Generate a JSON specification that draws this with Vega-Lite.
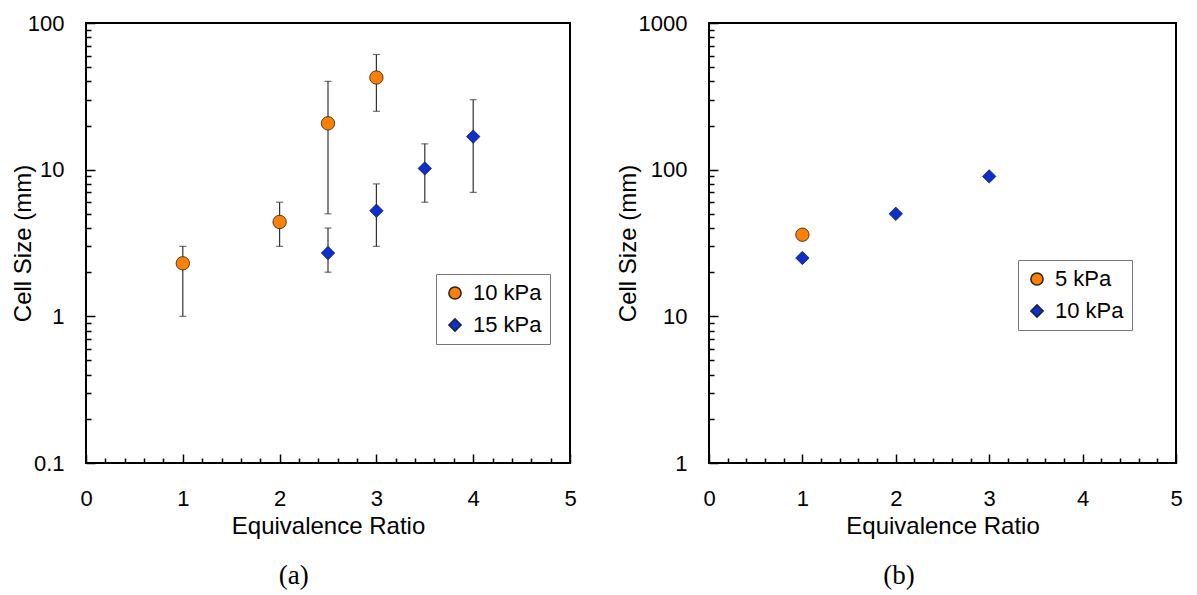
{
  "$schema": "https://vega.github.io/schema/vega-lite/v6.json",
  "background": "white",
  "padding": {"left": 10, "top": 11, "right": 5, "bottom": 5},
  "spacing": 37,
  "config": {
    "view": {"stroke": "black", "strokeWidth": 2},
    "font": "Liberation Sans",
    "axis": {
      "domain": false,
      "grid": false,
      "tickColor": "black",
      "tickWidth": 1.5,
      "labelFont": "Liberation Sans",
      "labelFontSize": 22,
      "labelColor": "black",
      "titleFont": "Liberation Sans",
      "titleFontSize": 24,
      "titleFontWeight": "normal",
      "titleColor": "black"
    },
    "legend": {
      "labelFont": "Liberation Sans",
      "labelFontSize": 22,
      "labelColor": "black",
      "fillColor": "white",
      "strokeColor": "#777777",
      "padding": 8,
      "rowPadding": 10,
      "labelOffset": 7,
      "symbolSize": 150
    },
    "title": {"font": "Liberation Serif", "fontSize": 27, "fontWeight": "normal", "color": "black"}
  },
  "datasets": {
    "a": [
      {"ratio": 1, "size": 2.3, "lo": 1, "hi": 3, "series": "10 kPa"},
      {"ratio": 2, "size": 4.4, "lo": 3, "hi": 6, "series": "10 kPa"},
      {"ratio": 2.5, "size": 20.7, "lo": 5, "hi": 40, "series": "10 kPa"},
      {"ratio": 3, "size": 42.5, "lo": 25, "hi": 61, "series": "10 kPa"},
      {"ratio": 2.5, "size": 2.7, "lo": 2, "hi": 4, "series": "15 kPa"},
      {"ratio": 3, "size": 5.25, "lo": 3, "hi": 8, "series": "15 kPa"},
      {"ratio": 3.5, "size": 10.2, "lo": 6, "hi": 15, "series": "15 kPa"},
      {"ratio": 4, "size": 16.8, "lo": 7, "hi": 30, "series": "15 kPa"}
    ],
    "b": [
      {"ratio": 1, "size": 36, "series": "5 kPa"},
      {"ratio": 1, "size": 25, "series": "10 kPa"},
      {"ratio": 2, "size": 50, "series": "10 kPa"},
      {"ratio": 3, "size": 90, "series": "10 kPa"}
    ]
  },
  "resolve": {
    "scale": {"x": "independent", "y": "independent", "fill": "independent", "shape": "independent"}
  },
  "hconcat": [
    {
      "width": 484,
      "height": 440,
      "title": {"text": "(a)", "orient": "bottom", "frame": "bounds", "offset": 25},
      "data": {"name": "a"},
      "encoding": {
        "x": {
          "field": "ratio", "type": "quantitative",
          "scale": {"domain": [0, 5], "nice": false, "zero": false},
          "axis": {
            "title": "Equivalence Ratio",
            "values": [0,0.2,0.4,0.6,0.8,1,1.2,1.4,1.6,1.8,2,2.2,2.4,2.6,2.8,3,3.2,3.4,3.6,3.8,4,4.2,4.4,4.6,4.8,5],
            "tickSize": {"condition": {"test": "datum.value % 1 === 0", "value": -9}, "value": -5},
            "labelExpr": "datum.value % 1 === 0 ? format(datum.value, 'd') : ''",
            "labelPadding": 34,
            "labelFlush": false,
            "titlePadding": 5
          }
        },
        "y": {
          "field": "size", "type": "quantitative",
          "scale": {"type": "log", "domain": [0.1, 100], "nice": false},
          "axis": {
            "title": "Cell Size (mm)",
            "values": [0.1,0.2,0.3,0.4,0.5,0.6,0.7,0.8,0.9,1,2,3,4,5,6,7,8,9,10,20,30,40,50,60,70,80,90,100],
            "tickSize": {"condition": {"test": "indexof([0.1,1,10,100], datum.value) >= 0", "value": -9}, "value": -5},
            "labelExpr": "indexof([0.1,1,10,100], datum.value) >= 0 ? format(datum.value, '~g') : ''",
            "labelPadding": 31,
            "labelFlush": false,
            "titlePadding": -8
          }
        }
      },
      "layer": [
        {
          "mark": {"type": "rule", "color": "#333333", "strokeWidth": 1.2},
          "encoding": {"y": {"field": "lo", "type": "quantitative"}, "y2": {"field": "hi"}}
        },
        {
          "mark": {"type": "tick", "orient": "horizontal", "color": "#333333", "size": 7, "thickness": 1.2},
          "encoding": {"y": {"field": "hi", "type": "quantitative"}}
        },
        {
          "mark": {"type": "tick", "orient": "horizontal", "color": "#333333", "size": 7, "thickness": 1.2},
          "encoding": {"y": {"field": "lo", "type": "quantitative"}}
        },
        {
          "mark": {"type": "point", "filled": true, "opacity": 1, "size": 180, "stroke": "#222222", "strokeWidth": 0.8},
          "encoding": {
            "fill": {"field": "series", "type": "nominal", "scale": {"domain": ["10 kPa", "15 kPa"], "range": ["#FF8000", "#0A2FD6"]},
              "legend": {"title": null, "orient": "none", "legendX": 350, "legendY": 251,
                "encode": {"symbols": {"update": {"stroke": {"value": "#222222"}, "strokeWidth": {"value": 0.8}, "opacity": {"value": 1}}}}}},
            "shape": {"field": "series", "type": "nominal", "scale": {"domain": ["10 kPa", "15 kPa"], "range": ["circle", "diamond"]},
              "legend": {"title": null, "orient": "none", "legendX": 350, "legendY": 251,
                "encode": {"symbols": {"update": {"stroke": {"value": "#222222"}, "strokeWidth": {"value": 0.8}, "opacity": {"value": 1}}}}}}
          }
        }
      ]
    },
    {
      "width": 467,
      "height": 440,
      "title": {"text": "(b)", "orient": "bottom", "frame": "bounds", "offset": 25},
      "data": {"name": "b"},
      "encoding": {
        "x": {
          "field": "ratio", "type": "quantitative",
          "scale": {"domain": [0, 5], "nice": false, "zero": false},
          "axis": {
            "title": "Equivalence Ratio",
            "values": [0,0.2,0.4,0.6,0.8,1,1.2,1.4,1.6,1.8,2,2.2,2.4,2.6,2.8,3,3.2,3.4,3.6,3.8,4,4.2,4.4,4.6,4.8,5],
            "tickSize": {"condition": {"test": "datum.value % 1 === 0", "value": -9}, "value": -5},
            "labelExpr": "datum.value % 1 === 0 ? format(datum.value, 'd') : ''",
            "labelPadding": 34,
            "labelFlush": false,
            "titlePadding": 5
          }
        },
        "y": {
          "field": "size", "type": "quantitative",
          "scale": {"type": "log", "domain": [1, 1000], "nice": false},
          "axis": {
            "title": "Cell Size (mm)",
            "values": [1,2,3,4,5,6,7,8,9,10,20,30,40,50,60,70,80,90,100,200,300,400,500,600,700,800,900,1000],
            "tickSize": {"condition": {"test": "indexof([1,10,100,1000], datum.value) >= 0", "value": -9}, "value": -5},
            "labelExpr": "indexof([1,10,100,1000], datum.value) >= 0 ? format(datum.value, '~g') : ''",
            "labelPadding": 31,
            "labelFlush": false,
            "titlePadding": -2
          }
        }
      },
      "layer": [
        {
          "mark": {"type": "point", "filled": true, "opacity": 1, "size": 180, "stroke": "#222222", "strokeWidth": 0.8},
          "encoding": {
            "fill": {"field": "series", "type": "nominal", "scale": {"domain": ["5 kPa", "10 kPa"], "range": ["#FF8000", "#0A2FD6"]},
              "legend": {"title": null, "orient": "none", "legendX": 309, "legendY": 237,
                "encode": {"symbols": {"update": {"stroke": {"value": "#222222"}, "strokeWidth": {"value": 0.8}, "opacity": {"value": 1}}}}}},
            "shape": {"field": "series", "type": "nominal", "scale": {"domain": ["5 kPa", "10 kPa"], "range": ["circle", "diamond"]},
              "legend": {"title": null, "orient": "none", "legendX": 309, "legendY": 237,
                "encode": {"symbols": {"update": {"stroke": {"value": "#222222"}, "strokeWidth": {"value": 0.8}, "opacity": {"value": 1}}}}}}
          }
        }
      ]
    }
  ]
}
